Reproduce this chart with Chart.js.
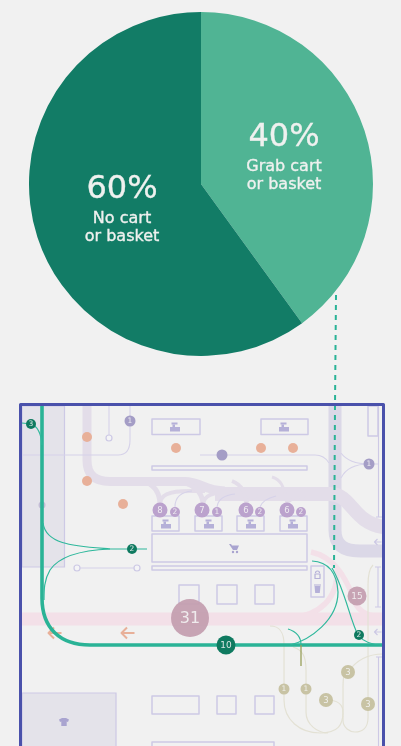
<!DOCTYPE html>
<html>
<head>
<meta charset="utf-8">
<title>Cart or basket use and store paths</title>
<script src="https://cdn.jsdelivr.net/npm/chart.js@4"></script>
<style>
  html, body { margin: 0; padding: 0; background: #f1f1f1; overflow: hidden; }
  #stage { position: relative; width: 401px; height: 746px; }
  canvas { position: absolute; display: block; }
  #plan { left: 0; top: 0; }
  #share { left: 29px; top: 12px; }
</style>
</head>
<body>
<div id="stage">
  <canvas id="plan" width="401" height="746"></canvas>
  <canvas id="share" width="344" height="344"></canvas>
</div>
<script>
// Share of shoppers by what they pick up on entering
const shareCategories = ['Grab cart or basket', 'No cart or basket'];
const shareValues = [40, 60];
const shareColors = ['#50b494', '#127c66'];
const shareLabels = [['40%', 'Grab cart', 'or basket'], ['60%', 'No cart', 'or basket']];
const shareLabelCentres = [[83, 0], [-79, 0]];
const shareLabelRows = [[-46, -17.5, 1], [5.5, 34.5, 52.5]];

// Shopper counts at each stop on the floor plan (plan units)
const tealX = [31, 132, 359, 226];
const tealY = [424, 549, 635, 645];
const tealR = [5, 5, 5, 9.5];
const tealCounts = ['3', '2', '2', '10'];

const pinkX = [190, 357];
const pinkY = [618, 596];
const pinkR = [19, 9.5];
const pinkCounts = ['31', '15'];

const lilacX = [160, 175, 202, 217, 246, 260, 287, 301];
const lilacY = [510, 512, 510, 512, 510, 512, 510, 512];
const lilacR = [7.5, 5, 7.5, 5, 7.5, 5, 7.5, 5];
const lilacCounts = ['8', '2', '7', '1', '6', '2', '6', '2'];

const violetX = [130, 369, 222];
const violetY = [421, 464, 455];
const violetR = [5.5, 5.5, 5.5];
const violetCounts = ['1', '1', ''];

const sandX = [284, 306, 326, 348, 368];
const sandY = [689, 689, 700, 672, 704];
const sandR = [5.5, 5.5, 7, 7, 7];
const sandCounts = ['1', '1', '3', '3', '3'];

const orangeX = [87, 87, 123, 176, 261, 293];
const orangeY = [437, 481, 504, 448, 448, 448];
const orangeR = [5, 5, 5, 5, 5, 5];

// Fixtures: x0, y0, x1, y1
const fixtures = [
  [152, 419, 200, 434.5], [261, 419, 308, 434.5], [152, 466, 307, 470],
  [152, 516, 179, 531], [195, 516, 222, 531], [237, 516, 264, 531], [280, 516, 307, 531],
  [152, 534, 307, 562], [152, 566, 307, 570],
  [179, 585, 199, 604], [217, 585, 237, 604], [255, 585, 274, 604],
  [152, 696, 199, 714], [217, 696, 236, 714], [255, 696, 274, 714],
  [152, 742, 274, 765], [311, 566, 324, 597], [368, 406, 378, 436]
];
const shadedRooms = [[22, 406, 64.5, 567], [22, 693, 116, 765]];

// Walkways and routes, as path strings in plan units
const pinkWalks = [
  [13, 'M 22 619 L 383 619'],
  [5.5, 'M 311 552 C 335 557 345 578 352 594 C 356 610 364 616 383 617'],
  [5.5, 'M 290 618 C 320 616 338 598 337 570']
];
const lilacWalks = [
  [13, '#dbd8e7', 'M 335 406 L 335 530 C 335 546 345 551 360 551 L 383 551'],
  [9, '#e3dde9', 'M 87 406 L 87 460 C 87 476 96 481.5 110 481.5 L 185 481.5 C 200 481.5 205 491 225 491'],
  [14, '#e3dde9', 'M 215 494 L 330 494 C 352 494 352 522 383 527'],
  [5, '#e3dde9', 'M 146 482 C 155 486 160 494 160 505'],
  [4, '#e3dde9', 'M 160 505 C 160 495 168 491 190 491 L 205 491'],
  [5, '#e3dde9', 'M 188 484 C 197 488 203 495 203 505'],
  [4, '#e3dde9', 'M 203 505 C 203 496 212 492 232 491'],
  [4, '#e3dde9', 'M 232 481 C 240 484 246 490 246 505'],
  [3, '#e3dde9', 'M 272 477 C 280 479 285 486 287 505'],
  [3, '#e3dde9', 'M 246 505 C 247 499 252 496 262 496'],
  [2, '#e3dde9', 'M 287 505 C 288 500 295 498 305 496']
];
const fineLines = [
  ['#d6d2e9', 'M 22 455 L 118 455 C 126 455 130 450 130 440 L 130 406'],
  ['#d6d2e9', 'M 200 455 L 315 455 C 322 455 326 458 329 463'],
  ['#d6d2e9', 'M 341 453 C 346 460 355 464 369 464 L 378 464'],
  ['#d6d2e9', 'M 369 464 C 355 464 346 468 341 478'],
  ['#d6d2e9', 'M 109 406 L 109 435'],
  ['#d6d2e9', 'M 80 568 L 134 568'],
  ['#d6d2e9', 'M 175 507 C 175 497 181 492 192 491'],
  ['#d6d2e9', 'M 217 507 C 218 499 225 495 235 494'],
  ['#d6d2e9', 'M 260 507 C 262 501 268 498 276 496'],
  ['#cdc9e5', 'M 378.5 406 L 378.5 517 M 376 517 L 382 517'],
  ['#cdc9e5', 'M 378 567 L 378 607 M 375 567 L 381 567 M 375 607 L 381 607'],
  ['#cdc9e5', 'M 378.5 657 L 378.5 746 M 376 657 L 382 657']
];
const sandLines = [
  'M 270 626 C 280 626 284 632 284 645 L 284 700 C 284 720 300 733 320 733 C 338 733 343 725 343 712 C 343 703 335 700 326 700',
  'M 293 647 C 302 650 306 655 306 670 L 306 712 C 306 725 318 733 328 733',
  'M 348 672 C 343 672 343 680 343 690 L 343 720 C 343 728 350 732 355 732 C 362 732 368 728 368 718 L 368 585 C 368 572 370 568 373 565',
  'M 348 672 C 355 662 365 654 383 654'
];
const tealFine = [
  'M 22 423 L 31 424 C 37 426 41 432 42 445',
  'M 43 523 C 46 545 75 546 110 549 L 147 549',
  'M 110 549 C 85 550 60 555 50 570 C 44 580 44 590 44 600',
  'M 312 561 C 330 562 337 575 338 592 C 338 620 310 640 290 645',
  'M 332 568 C 345 590 350 620 358 635 C 362 640 370 645 383 645',
  'M 288 629 C 298 632 301 638 301 645'
];
const tealMain = 'M 42 406 L 42 598 C 42 628 60 645 90 645 L 383 645';
const olivePath = 'M 301 645 L 301 666';
const referralLine = 'M 336 295 L 335 406 L 334 568';
const ringX = [109, 77, 137];
const ringY = [438, 568, 568];
const arrowX = [128, 55];
const arrowY = [633, 633];
const wayArrowX = [378, 378];
const wayArrowY = [542, 632];
const kioskX = [175, 284, 166, 209, 251, 293];
const kioskY = [427, 427, 524, 524, 524, 524];

const planFont = '"DejaVu Sans", sans-serif';

// Draws a path string through the chart's own scales
function tracePath(ctx, scales, d) {
  const parts = d.split(' ');
  let i = 0;
  ctx.beginPath();
  while (i < parts.length) {
    const op = parts[i++];
    const count = op === 'C' ? 3 : op === 'Q' ? 2 : 1;
    const pts = [];
    for (let k = 0; k < count; k++) {
      pts.push(scales.x.getPixelForValue(+parts[i++]), scales.y.getPixelForValue(+parts[i++]));
    }
    if (op === 'M') ctx.moveTo(pts[0], pts[1]);
    else if (op === 'L') ctx.lineTo(pts[0], pts[1]);
    else if (op === 'C') ctx.bezierCurveTo(...pts);
    else ctx.quadraticCurveTo(...pts);
  }
}

function strokePath(ctx, scales, d, color, width) {
  tracePath(ctx, scales, d);
  ctx.strokeStyle = color;
  ctx.lineWidth = width;
  ctx.lineCap = 'butt';
  ctx.lineJoin = 'round';
  ctx.stroke();
}

function rectFrom(ctx, scales, r) {
  const x0 = scales.x.getPixelForValue(r[0]), y0 = scales.y.getPixelForValue(r[1]);
  const x1 = scales.x.getPixelForValue(r[2]), y1 = scales.y.getPixelForValue(r[3]);
  ctx.beginPath();
  ctx.rect(x0, y0, x1 - x0, y1 - y0);
}

function drawKiosk(ctx, x, y) {
  ctx.fillStyle = '#b5b0d8';
  ctx.fillRect(x - 5, y, 10, 4.5);
  ctx.fillRect(x - 2.5, y - 2.5, 2.5, 3);
  ctx.fillRect(x - 3.5, y - 4.5, 6, 2);
}

function drawCart(ctx, x, y) {
  ctx.fillStyle = '#a9a4d0';
  ctx.beginPath();
  ctx.moveTo(x - 5, y - 4); ctx.lineTo(x - 3, y - 4); ctx.lineTo(x - 2, y - 2.5);
  ctx.lineTo(x + 5, y - 2.5); ctx.lineTo(x + 3, y + 2); ctx.lineTo(x - 1, y + 2);
  ctx.closePath(); ctx.fill();
  ctx.beginPath(); ctx.arc(x - 1, y + 4, 1.2, 0, 7); ctx.arc(x + 3, y + 4, 1.2, 0, 7); ctx.fill();
}

function drawShirt(ctx, x, y) {
  ctx.fillStyle = '#a9a4d0';
  ctx.beginPath();
  ctx.moveTo(x - 2, y - 4); ctx.lineTo(x + 2, y - 4); ctx.lineTo(x + 5, y - 2.5);
  ctx.lineTo(x + 4, y); ctx.lineTo(x + 2.7, y - 0.5); ctx.lineTo(x + 2.7, y + 4);
  ctx.lineTo(x - 2.7, y + 4); ctx.lineTo(x - 2.7, y - 0.5); ctx.lineTo(x - 4, y);
  ctx.lineTo(x - 5, y - 2.5); ctx.closePath(); ctx.fill();
}

function drawLockAndBin(ctx, x, lockY, binY) {
  ctx.strokeStyle = '#b5b0d8'; ctx.lineWidth = 1.2;
  ctx.strokeRect(x - 2.5, lockY - 1, 5, 4.5);
  ctx.beginPath(); ctx.arc(x, lockY - 2, 2, Math.PI, 0); ctx.stroke();
  ctx.fillStyle = '#b5b0d8';
  ctx.beginPath();
  ctx.moveTo(x - 3, binY - 3); ctx.lineTo(x + 3, binY - 3); ctx.lineTo(x + 2.3, binY + 4);
  ctx.lineTo(x - 2.3, binY + 4); ctx.closePath(); ctx.fill();
  ctx.fillRect(x - 3.5, binY - 4.5, 7, 1);
}

function drawLeftArrow(ctx, x, y, half, color, width) {
  ctx.strokeStyle = color; ctx.lineWidth = width; ctx.lineCap = 'butt';
  ctx.beginPath();
  ctx.moveTo(x + half, y); ctx.lineTo(x - half, y);
  ctx.moveTo(x - half + half * 0.85, y - half * 0.85);
  ctx.lineTo(x - half, y);
  ctx.lineTo(x - half + half * 0.85, y + half * 0.85);
  ctx.stroke();
}

const floorPlan = {
  id: 'floorPlan',
  beforeDatasetsDraw(chart) {
    const { ctx, scales } = chart;
    const px = v => scales.x.getPixelForValue(v);
    const py = v => scales.y.getPixelForValue(v);
    ctx.save();

    shadedRooms.forEach(r => {
      rectFrom(ctx, scales, r);
      ctx.fillStyle = '#e4e3ea'; ctx.fill();
      ctx.strokeStyle = '#cdc9e5'; ctx.lineWidth = 1.2; ctx.stroke();
    });
    pinkWalks.forEach(w => strokePath(ctx, scales, w[1], '#f3e0e8', w[0]));
    lilacWalks.forEach(w => strokePath(ctx, scales, w[2], w[1], w[0]));
    fixtures.forEach(r => {
      rectFrom(ctx, scales, r);
      ctx.strokeStyle = '#cdc9e5'; ctx.lineWidth = 1.5; ctx.stroke();
    });
    fineLines.forEach(l => strokePath(ctx, scales, l[1], l[0], 1.1));
    sandLines.forEach(d => strokePath(ctx, scales, d, '#e3e1d4', 1.2));

    ringX.forEach((x, i) => {
      ctx.beginPath();
      ctx.arc(px(x), py(ringY[i]), 3, 0, Math.PI * 2);
      ctx.fillStyle = '#f4f4f6'; ctx.fill();
      ctx.strokeStyle = '#cdc9e5'; ctx.lineWidth = 1.2; ctx.stroke();
    });
    kioskX.forEach((x, i) => drawKiosk(ctx, px(x), py(kioskY[i])));
    drawCart(ctx, px(234), py(548));
    drawShirt(ctx, px(64), py(722));
    drawLockAndBin(ctx, px(317.5), py(575), py(589));
    arrowX.forEach((x, i) => drawLeftArrow(ctx, px(x), py(arrowY[i]), 6.5, '#e8b099', 2));
    wayArrowX.forEach((x, i) => drawLeftArrow(ctx, px(x), py(wayArrowY[i]), 3.5, '#cdc9e5', 1.2));

    ctx.beginPath();
    ctx.arc(px(42), py(505), 3.5, 0, Math.PI * 2);
    ctx.fillStyle = '#c4bdd6'; ctx.fill();

    strokePath(ctx, scales, tealMain, '#2ab396', 3.6);
    tealFine.forEach(d => strokePath(ctx, scales, d, '#2fb89c', 1.2));
    strokePath(ctx, scales, olivePath, '#98a05a', 1.3);

    // Dashed link from the pie down into the plan
    ctx.setLineDash([5, 5]);
    strokePath(ctx, scales, referralLine, '#2ab396', 2);
    ctx.setLineDash([]);

    // Plan border, open past the bottom edge of the page
    rectFrom(ctx, scales, [20.5, 404.5, 383.5, 770]);
    ctx.strokeStyle = '#4a51ab'; ctx.lineWidth = 3; ctx.stroke();
    ctx.restore();
  },
  afterDatasetsDraw(chart) {
    const { ctx } = chart;
    ctx.save();
    ctx.textAlign = 'center';
    ctx.textBaseline = 'middle';
    chart.data.datasets.forEach((ds, d) => {
      if (!ds.counts) return;
      chart.getDatasetMeta(d).data.forEach((pt, i) => {
        const r = ds.data[i].r;
        const size = r > 15 ? 16 : r > 8 ? 9 : r > 6 ? 8.5 : 7.5;
        ctx.font = size + 'px ' + planFont;
        ctx.fillStyle = 'rgba(245,245,245,0.88)';
        ctx.fillText(ds.counts[i], pt.x, pt.y + 0.5);
      });
    });
    ctx.restore();
  }
};

function stops(xs, ys, rs) {
  return xs.map((x, i) => ({ x, y: ys[i], r: rs[i] }));
}

function stopSet(label, xs, ys, rs, counts, color) {
  return { label, data: stops(xs, ys, rs), counts, backgroundColor: color, borderWidth: 0, hoverRadius: 0 };
}

new Chart(document.getElementById('plan'), {
  type: 'bubble',
  data: {
    datasets: [
      stopSet('Route stops', tealX, tealY, tealR, tealCounts, '#0f7a60'),
      stopSet('Long dwell', pinkX, pinkY, pinkR, pinkCounts, 'rgba(196,159,176,0.95)'),
      stopSet('Service counters', lilacX, lilacY, lilacR, lilacCounts, '#bba2cd'),
      stopSet('Entrances', violetX, violetY, violetR, violetCounts, '#a49dc6'),
      stopSet('Exits', sandX, sandY, sandR, sandCounts, '#c8c3a4'),
      stopSet('Staff', orangeX, orangeY, orangeR, null, '#e8b099')
    ]
  },
  options: {
    responsive: false,
    animation: false,
    layout: { padding: 0, autoPadding: false },
    plugins: { legend: { display: false }, tooltip: { enabled: false } },
    scales: {
      x: { type: 'linear', min: 0, max: 401, display: false },
      y: { type: 'linear', min: 0, max: 746, reverse: true, display: false }
    },
    clip: false
  },
  plugins: [floorPlan]
});

const shareText = {
  id: 'shareText',
  afterDatasetsDraw(chart) {
    const { ctx } = chart;
    const arc = chart.getDatasetMeta(0).data[0];
    ctx.save();
    ctx.textAlign = 'center';
    ctx.textBaseline = 'middle';
    ctx.fillStyle = '#eff1ef';
    ctx.strokeStyle = '#eff1ef';
    ctx.lineWidth = 0.35;
    shareLabels.forEach((rows, i) => {
      rows.forEach((text, j) => {
        ctx.font = (j === 0 ? 32 : 16) + 'px "DejaVu Sans", sans-serif';
        const x = arc.x + shareLabelCentres[i][0], y = arc.y + shareLabelRows[i][j];
        ctx.fillText(text, x, y);
        ctx.strokeText(text, x, y);
      });
    });
    ctx.restore();
  }
};

new Chart(document.getElementById('share'), {
  type: 'pie',
  data: {
    labels: shareCategories,
    datasets: [{ data: shareValues, backgroundColor: shareColors, borderWidth: 0 }]
  },
  options: {
    responsive: false,
    animation: false,
    layout: { padding: 0 },
    plugins: { legend: { display: false }, tooltip: { enabled: false } }
  },
  plugins: [shareText]
});
</script>
</body>
</html>
